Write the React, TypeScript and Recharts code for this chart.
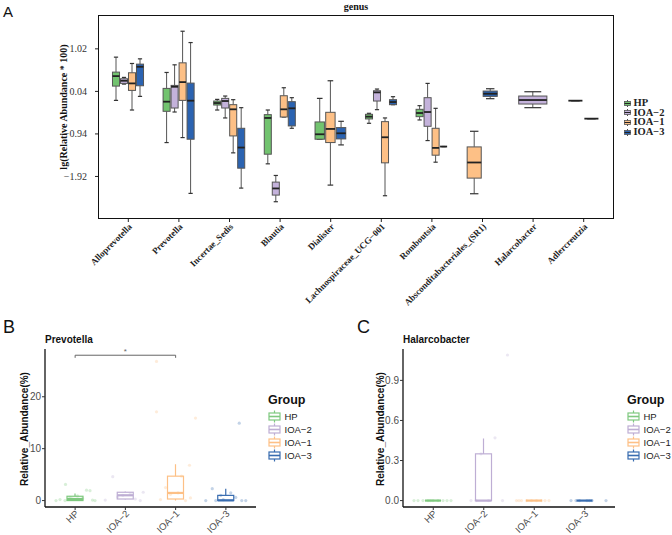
import React from "react";
import { BarChart, Bar, XAxis, YAxis, ReferenceLine } from "recharts";

// ---- panel A: lg(relative abundance * 100) per genus, [min, q1, median, q3, max]
const genera = [
  "Alloprevotella",
  "Prevotella",
  "Incertae_Sedis",
  "Blautia",
  "Dialister",
  "Lachnospiraceae_UCG−001",
  "Romboutsia",
  "Absconditabacteriales_(SR1)",
  "Halarcobacter",
  "Adlercreutzia",
];
const hpGenus = [
  [-0.167, 0.162, 0.392, 0.484, 0.829],
  [-1.139, -0.419, -0.197, 0.109, 0.476],
  [-0.389, -0.274, -0.228, -0.182, -0.144],
  [-1.629, -1.407, -0.572, -0.496, -0.389],
  [-1.062, -1.062, -0.948, -0.664, -0.121],
  [-0.695, -0.595, -0.542, -0.488, -0.465],
  [-0.618, -0.542, -0.458, -0.373, -0.289],
  null,
  null,
  [-0.174, -0.174, -0.174, -0.174, -0.174],
];
const ioa2Genus = [
  [0.208, 0.224, 0.285, 0.331, 0.362],
  [-0.435, -0.343, 0.147, 0.178, 0.652],
  [-0.572, -0.343, -0.182, -0.121, -0.067],
  [-2.502, -2.349, -2.196, -2.05, -1.897],
  null,
  [-0.381, -0.182, 0.017, 0.055, 0.094],
  [-1.093, -0.764, -0.435, -0.105, 0.224],
  null,
  [-0.335, -0.251, -0.159, -0.067, 0.032],
  null,
];
const ioa1Genus = [
  [-0.389, 0.063, 0.224, 0.469, 0.683],
  [-1.024, -0.167, 0.254, 0.698, 1.426],
  [-1.376, -0.986, -0.373, -0.266, -0.151],
  [-0.55, -0.55, -0.373, -0.06, 0.124],
  [-2.119, -1.139, -0.825, -0.442, 0.285],
  [-2.364, -1.606, -1.017, -0.657, -0.572],
  [-1.591, -1.43, -1.262, -0.81, -0.35],
  [-2.318, -1.958, -1.598, -1.239, -0.879],
  null,
  null,
];
const ioa3Genus = [
  [-0.075, 0.17, 0.607, 0.668, 0.79],
  [-2.31, -1.062, -0.174, 0.231, 1.165],
  [-2.188, -1.729, -1.254, -0.81, -0.335],
  [-0.81, -0.756, -0.35, -0.197, -0.105],
  [-1.193, -1.055, -0.925, -0.794, -0.649],
  [-0.266, -0.266, -0.205, -0.151, -0.082],
  [-1.231, -1.231, -1.231, -1.231, -1.231],
  [-0.128, -0.075, -0.014, 0.048, 0.101],
  null,
  [-0.588, -0.588, -0.588, -0.588, -0.588],
];
const genusTicks = [1.02, 0.04, -0.94, -1.92];

const groupLabels = ["HP", "IOA−2", "IOA−1", "IOA−3"];
const fillA = ["#72C36F", "#C4B2DB", "#FDC086", "#2B63B1"];
const accent = ["#7FC97F", "#BEAED4", "#FDC086", "#386CB0"];

// ---- panel B: Prevotella relative abundance (%)
const prevBox = [
  [0, 0, 0.3, 0.83, 1.35],
  [0.2, 0.3, 1.02, 1.6, 1.75],
  [0, 0.3, 1.47, 4.7, 7.0],
  [0, 0, 0.05, 1.0, 2.3],
];
const prevPoints = [
  [3.1, 2.0, 1.9, 0.9, 0.6, 0.4, 0.2, 0.1, 0, 0, 0, 0.3],
  [4.6, 1.6, 1.3, 1.0, 0.7, 0.3, 0.1, 0],
  [26.8, 17.1, 15.9, 6.8, 4.7, 2.5, 1.5, 1.2, 0.5, 0.2, 0],
  [14.9, 2.3, 1.5, 1.0, 0.6, 0.2, 0, 0, 0, 0],
];
const prevJitter = [
  [-0.19, 0.23, 0.3, 0.05, -0.1, 0.15, -0.3, 0.35, -0.38, 0.4, -0.2, -0.05],
  [-0.25, 0.36, 0.1, -0.05, -0.15, 0.2, -0.4, 0.3],
  [-0.38, -0.38, 0.4, 0.28, 0.12, -0.2, 0.05, -0.1, 0.3, -0.3, 0.2],
  [0.27, -0.27, 0.1, -0.1, 0.2, -0.05, -0.4, 0.4, 0.32, -0.2],
];

// ---- panel C: Halarcobacter relative abundance (%)
const halBox = [
  [0, 0, 0, 0, 0],
  [0, 0, 0, 0.35, 0.465],
  [0, 0, 0, 0, 0],
  [0, 0, 0, 0, 0],
];
const halPoints = [
  [0, 0, 0, 0, 0, 0, 0, 0, 0, 0],
  [1.09, 0.47, 0.35, 0, 0, 0, 0],
  [0, 0, 0, 0, 0, 0, 0, 0, 0],
  [0, 0, 0, 0, 0, 0, 0],
];
const halJitter = [
  [-0.38, -0.3, -0.2, -0.1, 0, 0.1, 0.2, 0.28, 0.36, -0.05],
  [0.48, 0.23, -0.05, -0.25, -0.15, 0.38, 0.1],
  [-0.35, -0.25, -0.15, -0.05, 0.05, 0.15, 0.22, 0.3, -0.3],
  [-0.27, -0.17, 0.43, -0.1, 0.05, 0.15, 0.1],
];

const genusRows = genera.map((name, i) => {
  const boxes = [hpGenus[i], ioa2Genus[i], ioa1Genus[i], ioa3Genus[i]];
  const vals = boxes.filter(Boolean).flat() as number[];
  return { name, boxes, lo: Math.min(...vals), hi: Math.max(...vals) };
});

const groupRows = (box: number[][], pts: number[][], jit: number[][]) =>
  groupLabels.map((name, i) => {
    const vals = [...box[i], ...pts[i]];
    return { name, gi: i, stats: box[i], pts: pts[i], jit: jit[i], lo: Math.min(...vals), hi: Math.max(...vals) };
  });
const prevRows = groupRows(prevBox, prevPoints, prevJitter);
const halRows = groupRows(halBox, halPoints, halJitter);

const serif = "'Liberation Serif', 'Times New Roman', serif";
const sans = "'Liberation Sans', Arial, sans-serif";

// value -> pixel inside a range bar [lo, hi]
const mapper = (y: number, height: number, lo: number, hi: number) => {
  const top = Math.min(y, y + height);
  const bot = Math.max(y, y + height);
  return (v: number) => (hi === lo ? top : top + ((hi - v) / (hi - lo)) * (bot - top));
};

const GenusBoxes = (props: any) => {
  const { x, y, width, height, payload } = props;
  const py = mapper(y, height, payload.lo, payload.hi);
  const present = payload.boxes
    .map((s: number[] | null, gi: number) => ({ s, gi }))
    .filter((o: any) => o.s);
  const slot = width / present.length;
  return (
    <g>
      {present.map(({ s, gi }: any, i: number) => {
        const [mn, q1, md, q3, mx] = s;
        const cx = x + slot * (i + 0.5);
        const bw = slot * 0.88;
        const cap = bw * 0.6;
        return (
          <g key={gi}>
            <line x1={cx} x2={cx} y1={py(mx)} y2={py(q3)} stroke="#555" strokeWidth={1} />
            <line x1={cx} x2={cx} y1={py(q1)} y2={py(mn)} stroke="#555" strokeWidth={1} />
            <line x1={cx - cap / 2} x2={cx + cap / 2} y1={py(mx)} y2={py(mx)} stroke="#333" strokeWidth={1.2} />
            <line x1={cx - cap / 2} x2={cx + cap / 2} y1={py(mn)} y2={py(mn)} stroke="#333" strokeWidth={1.2} />
            <rect x={cx - bw / 2} y={py(q3)} width={bw} height={py(q1) - py(q3)} fill={fillA[gi]} stroke="#555" strokeWidth={1} />
            <line x1={cx - bw / 2} x2={cx + bw / 2} y1={py(md)} y2={py(md)} stroke="#222" strokeWidth={1.8} />
          </g>
        );
      })}
    </g>
  );
};

const GroupBox = (props: any) => {
  const { x, y, width, height, payload } = props;
  const { stats, pts, jit, gi, lo, hi } = payload;
  const py = mapper(y, height, lo, hi);
  const [mn, q1, md, q3, mx] = stats;
  const color = accent[gi];
  const cx = x + width / 2;
  const bw = width * 0.32;
  return (
    <g>
      <line x1={cx} x2={cx} y1={py(mx)} y2={py(q3)} stroke={color} strokeWidth={1.2} />
      <line x1={cx} x2={cx} y1={py(q1)} y2={py(mn)} stroke={color} strokeWidth={1.2} />
      <rect x={cx - bw / 2} y={py(q3)} width={bw} height={py(q1) - py(q3)} fill="none" stroke={color} strokeWidth={1.2} />
      <line x1={cx - bw / 2} x2={cx + bw / 2} y1={py(md)} y2={py(md)} stroke={color} strokeWidth={2.2} />
      {pts.map((v: number, i: number) => (
        <circle key={i} cx={cx + jit[i] * width} cy={py(v)} r={1.6} fill={color} fillOpacity={0.3} />
      ))}
    </g>
  );
};

const GenusTick = ({ x, y, payload }: any) => (
  <g transform={`translate(${x},${y})`}>
    <text x={0} y={0} dy={6} textAnchor="end" transform="rotate(-45)" fontFamily={serif} fontWeight="bold" fontSize={9} fill="#222">
      {payload.value}
    </text>
  </g>
);

const GroupTick = ({ x, y, payload }: any) => (
  <g transform={`translate(${x},${y})`}>
    <text x={0} y={0} dy={6} textAnchor="end" transform="rotate(-45)" fontFamily={sans} fontSize={9.5} fill="#4D4D4D">
      {payload.value}
    </text>
  </g>
);

const minus = (s: string) => s.replace("-", "−");

const abs = (left: number, top: number, extra: any = {}) => ({ position: "absolute" as const, left, top, ...extra });

const RotTitle = ({ cx, cy, font, size, text }: any) => (
  <div
    style={abs(cx, cy, {
      transform: "translate(-50%,-50%) rotate(-90deg)",
      whiteSpace: "nowrap",
      fontFamily: font,
      fontWeight: "bold",
      fontSize: size,
      color: "#111",
      lineHeight: 1.3,
    })}
  >
    {text}
  </div>
);

const GroupLegend = ({ left }: { left: number }) => (
  <div style={abs(left, 393, { fontFamily: sans })}>
    <div style={{ fontSize: 12.5, fontWeight: "bold", lineHeight: "14px", color: "#111" }}>Group</div>
    {groupLabels.map((g, i) => (
      <div key={g} style={{ display: "flex", alignItems: "center", height: 13, marginTop: i === 0 ? 3 : 0 }}>
        <svg width={13} height={13}>
          <line x1={6.5} x2={6.5} y1={0.5} y2={12.5} stroke={accent[i]} strokeWidth={1.2} />
          <rect x={1} y={3} width={11} height={7} fill="#fff" stroke={accent[i]} strokeWidth={1.2} />
          <line x1={1} x2={12} y1={6.5} y2={6.5} stroke={accent[i]} strokeWidth={1.6} />
        </svg>
        <span style={{ fontSize: 9.5, marginLeft: 3.5, color: "#222" }}>{g}</span>
      </div>
    ))}
  </div>
);

const GenusChart = () => (
  <BarChart width={672} height={330} data={genusRows} margin={{ top: 15, right: 58, left: 48, bottom: 1 }} barSize={32}>
    <XAxis
      dataKey="name"
      interval={0}
      height={110}
      padding={{ left: 5, right: 5 }}
      tick={<GenusTick />}
      tickSize={3}
      tickMargin={1}
      tickLine={{ stroke: "#222" }}
      axisLine={false}
    />
    <YAxis
      domain={[-2.9, 1.8]}
      ticks={genusTicks}
      allowDataOverflow
      width={50}
      tickSize={3}
      tickMargin={8}
      tickFormatter={(v: number) => minus(v.toFixed(2))}
      tick={{ fontFamily: serif, fontSize: 10, fill: "#333" }}
      tickLine={{ stroke: "#222" }}
      axisLine={false}
    />
    <Bar dataKey={(d: any) => [d.lo, d.hi]} shape={<GenusBoxes />} isAnimationActive={false} />
  </BarChart>
);

const AbundanceChart = ({ rows, domain, ticks, fmt, right, bracket }: any) => (
  <BarChart width={right} height={205} data={rows} margin={{ top: 19, right: right === 270 ? 14 : 5, left: 15, bottom: 0 }} barSize={50}>
    <XAxis
      dataKey="name"
      interval={0}
      height={28}
      padding={{ left: 5, right: 5 }}
      tick={<GroupTick />}
      tickSize={3}
      tickMargin={0}
      tickLine={{ stroke: "#333" }}
      axisLine={{ stroke: "#111", strokeWidth: 1.3 }}
    />
    <YAxis
      domain={domain}
      ticks={ticks}
      allowDataOverflow
      width={30}
      tickSize={3}
      tickMargin={1}
      tickFormatter={fmt}
      tick={{ fontFamily: sans, fontSize: 10, fill: "#4D4D4D" }}
      tickLine={{ stroke: "#333" }}
      axisLine={{ stroke: "#111", strokeWidth: 1.3 }}
    />
    <Bar dataKey={(d: any) => [d.lo, d.hi]} shape={<GroupBox />} isAnimationActive={false} />
    {bracket && (
      <ReferenceLine
        segment={[{ x: groupLabels[0], y: bracket }, { x: groupLabels[2], y: bracket }]}
        stroke="#666"
        strokeWidth={1}
        label={{ value: "*", position: "top", offset: 1, fill: "#666", fontSize: 8, fontFamily: sans }}
      />
    )}
    {bracket && (
      <ReferenceLine segment={[{ x: groupLabels[0], y: bracket }, { x: groupLabels[0], y: bracket - 0.5 }]} stroke="#666" />
    )}
    {bracket && (
      <ReferenceLine segment={[{ x: groupLabels[2], y: bracket }, { x: groupLabels[2], y: bracket - 0.5 }]} stroke="#666" />
    )}
  </BarChart>
);

export default function App() {
  return (
    <div style={abs(0, 0, { width: 672, height: 535, background: "#fff", overflow: "hidden" })}>
      {/* panel A */}
      <div style={abs(3, 3, { fontFamily: sans, fontSize: 15, lineHeight: "17px", color: "#111" })}>A</div>
      <div style={abs(356, 1, { transform: "translateX(-50%)", fontFamily: serif, fontWeight: "bold", fontSize: 10, lineHeight: "12px", color: "#111" })}>
        genus
      </div>
      <div style={abs(0, 0)}>
        <GenusChart />
      </div>
      <div style={abs(98, 15, { width: 516, height: 204, border: "1.5px solid #111", boxSizing: "border-box", pointerEvents: "none" })} />
      <RotTitle cx={63} cy={107} font={serif} size={10} text="lg(Relative Abundance * 100)" />
      <div style={abs(624, 98.5, { fontFamily: serif, fontWeight: "bold", fontSize: 10.5, color: "#222" })}>
        {groupLabels.map((g, i) => (
          <div key={g} style={{ display: "flex", alignItems: "center", height: 9.6 }}>
            <svg width={7} height={7}>
              <line x1={3.5} x2={3.5} y1={0} y2={7} stroke="#555" strokeWidth={1} />
              <rect x={0.5} y={1.5} width={6} height={4} fill={fillA[i]} stroke="#555" strokeWidth={0.8} />
              <line x1={0.5} x2={6.5} y1={3.5} y2={3.5} stroke="#222" strokeWidth={1} />
            </svg>
            <span style={{ marginLeft: 2.5, lineHeight: "10px" }}>{g}</span>
          </div>
        ))}
      </div>

      {/* panel B */}
      <div style={abs(3, 317, { fontFamily: sans, fontSize: 18, lineHeight: "20px", color: "#111" })}>B</div>
      <div style={abs(45, 334, { fontFamily: sans, fontWeight: "bold", fontSize: 10, lineHeight: "12px", color: "#111" })}>Prevotella</div>
      <div style={abs(0, 330)}>
        <AbundanceChart rows={prevRows} domain={[-1.24, 29.2]} ticks={[0, 10, 20]} fmt={(v: number) => String(v)} right={270} bracket={28} />
      </div>
      <RotTitle cx={24} cy={429} font={sans} size={10} text="Relative_Abundance(%)" />
      <GroupLegend left={268} />

      {/* panel C */}
      <div style={abs(357, 317, { fontFamily: sans, fontSize: 18, lineHeight: "20px", color: "#111" })}>C</div>
      <div style={abs(403, 334, { fontFamily: sans, fontWeight: "bold", fontSize: 10, lineHeight: "12px", color: "#111" })}>Halarcobacter</div>
      <div style={abs(358, 330)}>
        <AbundanceChart rows={halRows} domain={[-0.048, 1.135]} ticks={[0, 0.3, 0.6, 0.9]} fmt={(v: number) => v.toFixed(1)} right={262} />
      </div>
      <RotTitle cx={380} cy={429} font={sans} size={10} text="Relative_Abundance(%)" />
      <GroupLegend left={627} />
    </div>
  );
}
